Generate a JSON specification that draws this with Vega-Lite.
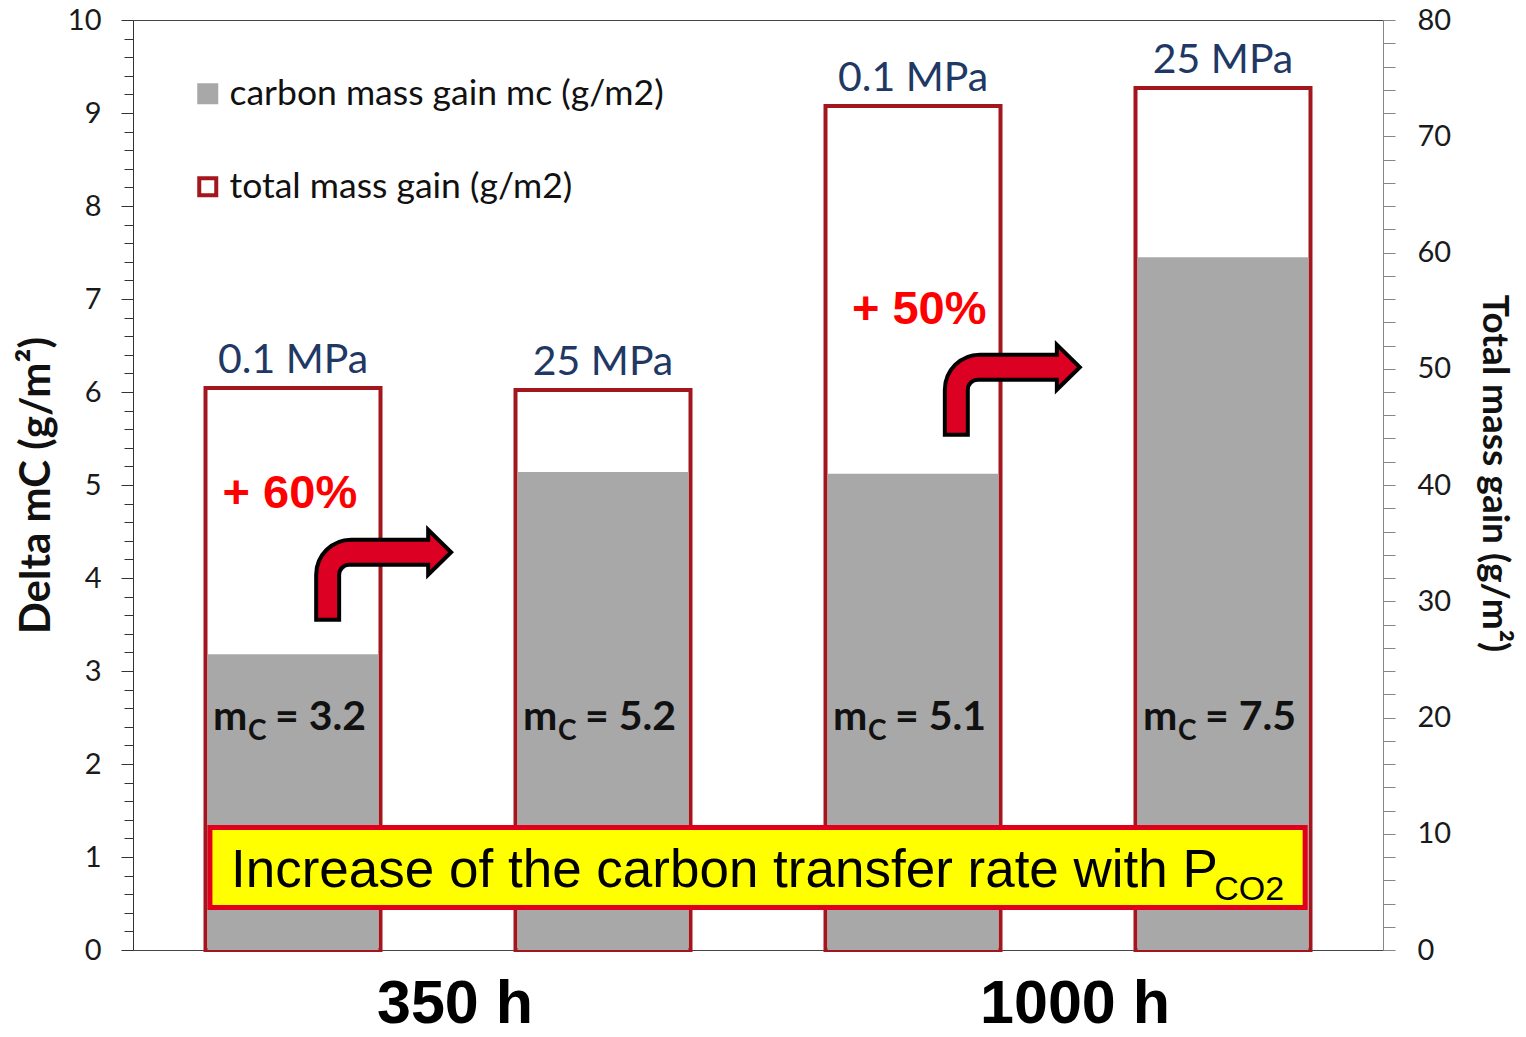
{
  "$schema": "https://vega.github.io/schema/vega-lite/v6.json",
  "width": 1250,
  "height": 930,
  "autosize": {"type": "none"},
  "padding": {"left": 133, "top": 20, "right": 143, "bottom": 87},
  "background": "white",
  "config": {
    "view": {"stroke": "#444444", "strokeWidth": 1},
    "font": "Lato"
  },
  "datasets": {
    "bars": [
      {"pos": 0.5, "time": "350 h", "pressure": "0.1 MPa", "mC": 3.18, "total": 48.34, "mC_label": "3.2"},
      {"pos": 1.5, "time": "350 h", "pressure": "25 MPa", "mC": 5.14, "total": 48.17, "mC_label": "5.2"},
      {"pos": 2.5, "time": "1000 h", "pressure": "0.1 MPa", "mC": 5.12, "total": 72.6, "mC_label": "5.1"},
      {"pos": 3.5, "time": "1000 h", "pressure": "25 MPa", "mC": 7.45, "total": 74.15, "mC_label": "7.5"}
    ],
    "pct": [
      {"text": "+ 60%", "x": 0.49, "y": 4.75},
      {"text": "+ 50%", "x": 2.52, "y": 6.73}
    ],
    "arrows": [
      {"x": 0.794, "y": 4.04},
      {"x": 2.822, "y": 6.03}
    ],
    "box": [
      {"x": 0.232, "x2": 3.765, "y": 0.457, "y2": 1.317}
    ],
    "boxtext": [
      {"text": "Increase of the carbon transfer rate with P", "x": 0.3, "y": 0.677}
    ],
    "boxsub": [
      {"text": "CO2", "x": 3.472, "y": 0.538}
    ]
  },
  "layer": [
    {
      "data": {"name": "bars"},
      "mark": {"type": "bar", "size": 175, "strokeWidth": 4},
      "encoding": {
        "x": {"field": "pos", "type": "quantitative", "scale": {"domain": [0, 4], "nice": false, "zero": false}, "axis": null},
        "y": {
          "field": "total", "type": "quantitative",
          "scale": {"domain": [0, 80], "nice": false},
          "axis": {
            "orient": "right", "title": "Total mass gain (g/m²)",
            "values": [0,2,4,6,8,10,12,14,16,18,20,22,24,26,28,30,32,34,36,38,40,42,44,46,48,50,52,54,56,58,60,62,64,66,68,70,72,74,76,78,80],
            "labelExpr": "datum.value % 10 === 0 ? datum.label : ''",
            "tickSize": 12, "tickColor": "#868686", "domainColor": "#868686",
            "labelFont": "Lato", "labelFontSize": 29, "labelColor": "#1a1a1a", "labelPadding": 22, "labelOverlap": false,
            "titleFont": "Lato", "titleFontSize": 37, "titleFontWeight": "bold", "titleColor": "#111111", "titlePadding": 24, "titleY": 453,
            "grid": false
          }
        },
        "fill": {
          "datum": "total mass gain (g/m2)", "type": "nominal",
          "scale": {"domain": ["carbon mass gain mc (g/m2)", "total mass gain (g/m2)"], "range": ["#a8a8a8", "#ffffff"]},
          "legend": {"orient": "none", "legendX": 57, "legendY": 56, "title": null, "symbolType": "square", "symbolSize": 289, "symbolStrokeWidth": 4, "labelFont": "Lato", "labelFontSize": 35.5, "labelColor": "#111111", "labelOffset": 4, "rowPadding": 56, "padding": 0, "labelLimit": 800}
        },
        "stroke": {
          "datum": "total mass gain (g/m2)", "type": "nominal",
          "scale": {"domain": ["carbon mass gain mc (g/m2)", "total mass gain (g/m2)"], "range": ["#a8a8a8", "#a3161d"]},
          "legend": {"orient": "none", "legendX": 57, "legendY": 56, "title": null, "symbolType": "square", "symbolSize": 289, "symbolStrokeWidth": 4, "labelFont": "Lato", "labelFontSize": 35.5, "labelColor": "#111111", "labelOffset": 4, "rowPadding": 56, "padding": 0, "labelLimit": 800}
        }
      }
    },
    {
      "data": {"name": "bars"},
      "mark": {"type": "text", "font": "Lato", "fontSize": 41, "color": "#1f3864", "baseline": "alphabetic", "align": "center", "dy": -15},
      "encoding": {
        "x": {"field": "pos", "type": "quantitative", "scale": {"domain": [0, 4], "nice": false, "zero": false}, "axis": null},
        "y": {"field": "total", "type": "quantitative", "scale": {"domain": [0, 80], "nice": false}, "axis": null},
        "text": {"field": "pressure"}
      }
    },
    {
      "data": {"name": "bars"},
      "mark": {"type": "bar", "size": 171, "strokeWidth": 0},
      "encoding": {
        "x": {"field": "pos", "type": "quantitative", "scale": {"domain": [0, 4], "nice": false, "zero": false}, "axis": null},
        "y": {
          "field": "mC", "type": "quantitative",
          "scale": {"domain": [0, 10], "nice": false},
          "axis": {
            "orient": "left", "title": "Delta mC (g/m²)",
            "values": [0,0.2,0.4,0.6,0.8,1,1.2,1.4,1.6,1.8,2,2.2,2.4,2.6,2.8,3,3.2,3.4,3.6,3.8,4,4.2,4.4,4.6,4.8,5,5.2,5.4,5.6,5.8,6,6.2,6.4,6.6,6.8,7,7.2,7.4,7.6,7.8,8,8.2,8.4,8.6,8.8,9,9.2,9.4,9.6,9.8,10],
            "labelExpr": "datum.value % 1 === 0 ? format(datum.value, '.0f') : ''",
            "tickSize": {"condition": {"test": "datum.value % 1 === 0", "value": 12}, "value": 9},
            "tickColor": "#333333", "domainColor": "#333333",
            "labelFont": "Lato", "labelFontSize": 29, "labelColor": "#1a1a1a", "labelPadding": 20, "labelOverlap": false,
            "titleFont": "Lato", "titleFontSize": 42, "titleFontWeight": "bold", "titleColor": "#111111", "titlePadding": 9,
            "grid": false
          }
        },
        "fill": {
          "datum": "carbon mass gain mc (g/m2)", "type": "nominal",
          "scale": {"domain": ["carbon mass gain mc (g/m2)", "total mass gain (g/m2)"], "range": ["#a8a8a8", "#ffffff"]}
        },
        "stroke": {
          "datum": "carbon mass gain mc (g/m2)", "type": "nominal",
          "scale": {"domain": ["carbon mass gain mc (g/m2)", "total mass gain (g/m2)"], "range": ["#a8a8a8", "#a3161d"]}
        }
      }
    },
    {
      "data": {"name": "bars"},
      "mark": {"type": "text", "font": "Lato", "fontWeight": "bold", "fontSize": 41, "align": "left", "baseline": "alphabetic", "dx": -80, "color": "#111111"},
      "encoding": {
        "x": {"field": "pos", "type": "quantitative", "scale": {"domain": [0, 4], "nice": false, "zero": false}, "axis": null},
        "y": {"datum": 2.37, "type": "quantitative", "scale": {"domain": [0, 10], "nice": false}, "axis": null},
        "text": {"value": "m"}
      }
    },
    {
      "data": {"name": "bars"},
      "mark": {"type": "text", "font": "Lato", "fontWeight": "bold", "fontSize": 28, "align": "left", "baseline": "alphabetic", "dx": -45, "dy": 10, "color": "#111111"},
      "encoding": {
        "x": {"field": "pos", "type": "quantitative", "scale": {"domain": [0, 4], "nice": false, "zero": false}, "axis": null},
        "y": {"datum": 2.37, "type": "quantitative", "scale": {"domain": [0, 10], "nice": false}, "axis": null},
        "text": {"value": "C"}
      }
    },
    {
      "data": {"name": "bars"},
      "transform": [{"calculate": "'= ' + datum.mC_label", "as": "eqlabel"}],
      "mark": {"type": "text", "font": "Lato", "fontWeight": "bold", "fontSize": 41, "align": "left", "baseline": "alphabetic", "dx": -18, "color": "#111111"},
      "encoding": {
        "x": {"field": "pos", "type": "quantitative", "scale": {"domain": [0, 4], "nice": false, "zero": false}, "axis": null},
        "y": {"datum": 2.37, "type": "quantitative", "scale": {"domain": [0, 10], "nice": false}, "axis": null},
        "text": {"field": "eqlabel"}
      }
    },
    {
      "data": {"name": "pct"},
      "mark": {"type": "text", "font": "Liberation Sans", "fontWeight": "bold", "fontSize": 47, "align": "center", "baseline": "alphabetic", "color": "#ff0000"},
      "encoding": {
        "x": {"field": "x", "type": "quantitative", "scale": {"domain": [0, 4], "nice": false, "zero": false}, "axis": null},
        "y": {"field": "y", "type": "quantitative", "scale": {"domain": [0, 10], "nice": false}, "axis": null},
        "text": {"field": "text"}
      }
    },
    {
      "data": {"name": "arrows"},
      "mark": {
        "type": "point",
        "shape": "M -0.971 0.65 L -0.971 0.007 C -0.971 -0.269 -0.747 -0.493 -0.471 -0.493 L 0.629 -0.493 L 0.629 -0.636 L 0.957 -0.314 L 0.629 0.007 L 0.629 -0.136 L -0.5 -0.136 C -0.579 -0.136 -0.643 -0.071 -0.643 0.007 L -0.643 0.65 Z",
        "size": 19600, "filled": true, "fill": "#dc0022", "stroke": "#000000", "strokeWidth": 4, "opacity": 1, "strokeJoin": "miter"
      },
      "encoding": {
        "x": {"field": "x", "type": "quantitative", "scale": {"domain": [0, 4], "nice": false, "zero": false}, "axis": null},
        "y": {"field": "y", "type": "quantitative", "scale": {"domain": [0, 10], "nice": false}, "axis": null}
      }
    },
    {
      "data": {"name": "box"},
      "mark": {"type": "rect", "fill": "#ffff00", "stroke": "#e0001b", "strokeWidth": 5},
      "encoding": {
        "x": {"field": "x", "type": "quantitative", "scale": {"domain": [0, 4], "nice": false, "zero": false}, "axis": null},
        "x2": {"field": "x2"},
        "y": {"field": "y", "type": "quantitative", "scale": {"domain": [0, 10], "nice": false}, "axis": null},
        "y2": {"field": "y2"}
      }
    },
    {
      "data": {"name": "boxtext"},
      "mark": {"type": "text", "font": "Liberation Sans", "fontSize": 53, "align": "left", "baseline": "alphabetic", "color": "#000000"},
      "encoding": {
        "x": {"field": "x", "type": "quantitative", "scale": {"domain": [0, 4], "nice": false, "zero": false}, "axis": null},
        "y": {"field": "y", "type": "quantitative", "scale": {"domain": [0, 10], "nice": false}, "axis": null},
        "text": {"field": "text"}
      }
    },
    {
      "data": {"name": "boxsub"},
      "mark": {"type": "text", "font": "Liberation Sans", "fontSize": 34, "align": "left", "baseline": "alphabetic", "color": "#000000"},
      "encoding": {
        "x": {"field": "x", "type": "quantitative", "scale": {"domain": [0, 4], "nice": false, "zero": false}, "axis": null},
        "y": {"field": "y", "type": "quantitative", "scale": {"domain": [0, 10], "nice": false}, "axis": null},
        "text": {"field": "text"}
      }
    },
    {
      "data": {"name": "bars"},
      "transform": [{"aggregate": [{"op": "mean", "field": "pos", "as": "gpos"}], "groupby": ["time"]}],
      "mark": {"type": "text", "font": "Liberation Sans", "fontWeight": "bold", "fontSize": 61, "align": "center", "baseline": "alphabetic", "dx": 7, "dy": 73, "color": "#000000"},
      "encoding": {
        "x": {"field": "gpos", "type": "quantitative", "scale": {"domain": [0, 4], "nice": false, "zero": false}, "axis": null},
        "y": {"datum": 0, "type": "quantitative", "scale": {"domain": [0, 10], "nice": false}, "axis": null},
        "text": {"field": "time"}
      }
    }
  ],
  "resolve": {"scale": {"y": "independent"}}
}
